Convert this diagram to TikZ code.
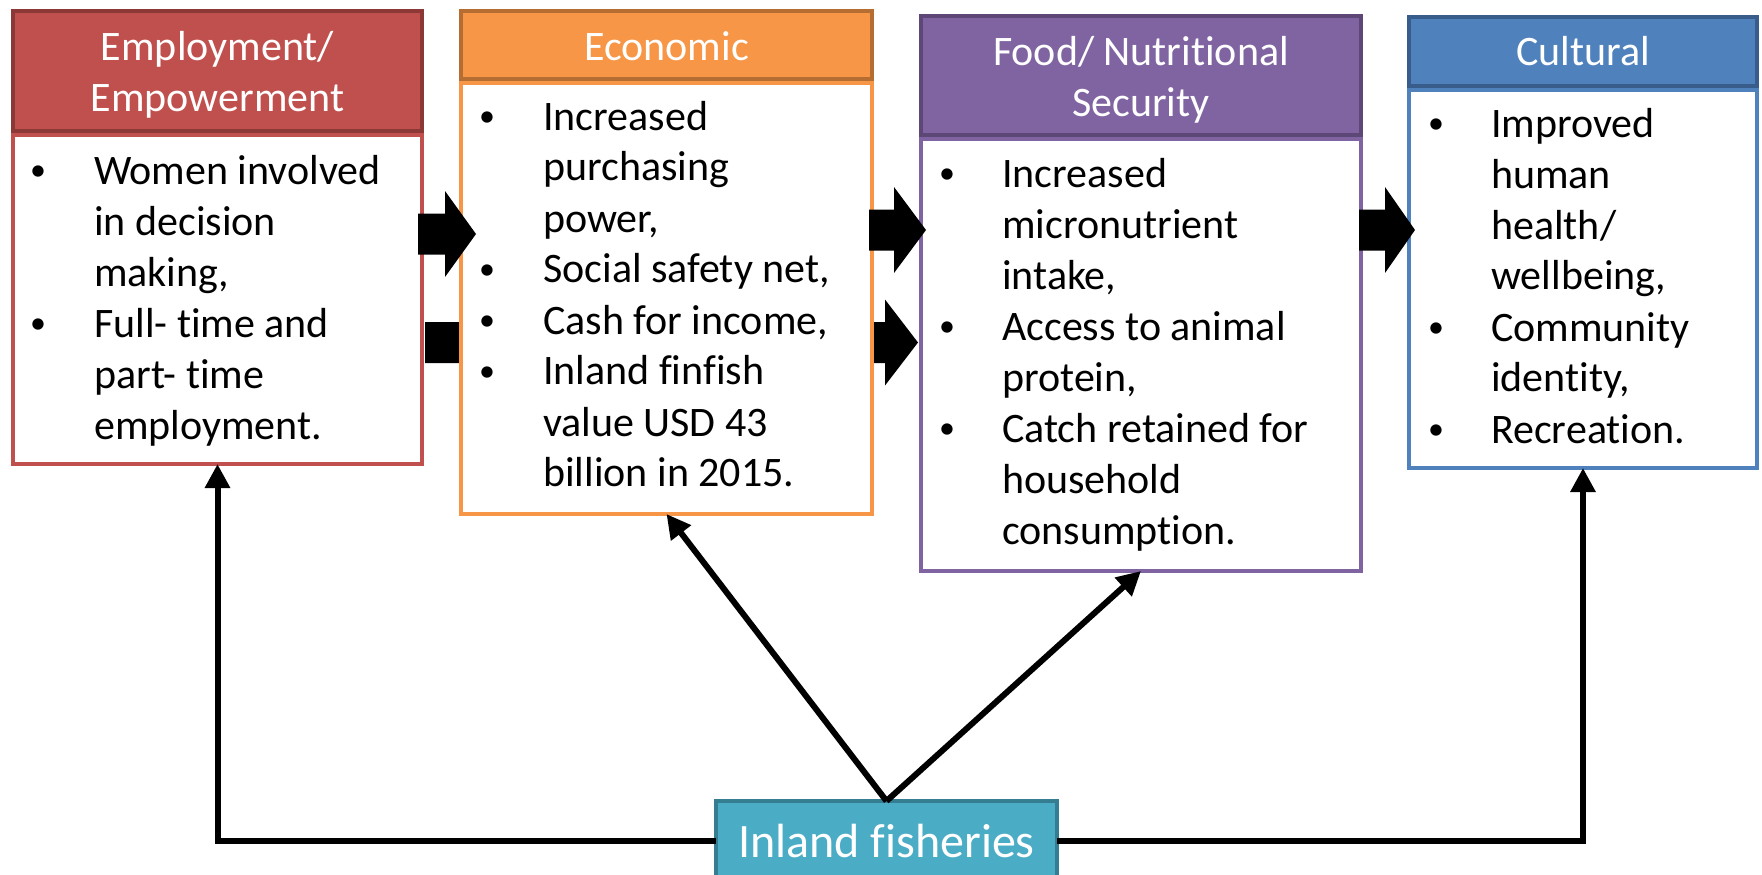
\documentclass[tikz,border=0pt]{standalone}
\usepackage{fontspec}
\setmainfont{Carlito}[Ligatures={NoCommon,NoContextual},Contextuals=NoAlternate]
\usetikzlibrary{arrows.meta}
\definecolor{cRed}{HTML}{C0504D}
\definecolor{cRedD}{HTML}{8C3836}
\definecolor{cOra}{HTML}{F79646}
\definecolor{cOraD}{HTML}{B66D31}
\definecolor{cPur}{HTML}{8064A2}
\definecolor{cPurD}{HTML}{5C4776}
\definecolor{cBlu}{HTML}{4F81BD}
\definecolor{cBluD}{HTML}{385D8A}
\definecolor{cTea}{HTML}{4BACC6}
\definecolor{cTeaD}{HTML}{357D91}
\newcommand\bulletmark{\makebox[0pt]{\raisebox{3.5pt}{\fontsize{32}{51}\selectfont\textbullet}}}
\newcommand\blockarr[4]{\fill[black] (#1,#4-20.5) -- (#2,#4-20.5) -- (#2,#4-43) -- (#3,#4) -- (#2,#4+43) -- (#2,#4+20.5) -- (#1,#4+20.5) -- cycle;}
\begin{document}
\begin{tikzpicture}[x=1pt,y=-1pt,
  hdr/.style={draw=#1, line width=4pt, inner sep=0pt, outer sep=0pt, anchor=north west},
  bodybox/.style={draw=#1, fill=white, line width=4pt, inner sep=0pt, outer sep=0pt, anchor=north west},
  bodytext/.style={inner sep=0pt, anchor=base west, font=\fontsize{42}{51}\selectfont},
  hdrtext/.style={inner sep=0pt, anchor=base, text=white, font=\fontsize{42}{51}\selectfont},
  fishbox/.style={draw=cTeaD, fill=cTea, line width=4pt, inner sep=0pt, outer sep=0pt, text=white, font=\fontsize{48}{58}\selectfont},
  conn/.style={line width=6pt, -{Triangle[length=24pt,width=24pt]}}]
\useasboundingbox (0,0) rectangle (1762,875);
% long block arrow passing behind the Economic box
\blockarr{425}{885}{918}{342.5}
% boxes
\node[bodybox=cRed, minimum width=409pt, minimum height=329pt] (redbody) at (13,135) {};
\node[hdr=cRedD, fill=cRed, minimum width=409pt, minimum height=120pt] (redhead) at (13,11) {};
\node[bodybox=cOra, minimum width=411pt, minimum height=431pt] (orangebody) at (461,83) {};
\node[hdr=cOraD, fill=cOra, minimum width=411pt, minimum height=68pt] (orangehead) at (461,11) {};
\node[bodybox=cPur, minimum width=440pt, minimum height=432pt] (purplebody) at (921,139) {};
\node[hdr=cPurD, fill=cPur, minimum width=440pt, minimum height=119pt] (purplehead) at (921,16) {};
\node[bodybox=cBlu, minimum width=348pt, minimum height=378pt] (bluebody) at (1409,90) {};
\node[hdr=cBluD, fill=cBlu, minimum width=348pt, minimum height=69pt] (bluehead) at (1409,17) {};
% header texts
\node[hdrtext] (redtitle) at (217.5,61) {\begin{tabular}[t]{@{}c@{}}Employment/\\Empowerment\end{tabular}};
\node[hdrtext] (orangetitle) at (666.5,60) {Economic};
\node[hdrtext] (purpletitle) at (1141,66) {\begin{tabular}[t]{@{}c@{}}Food/ Nutritional\\Security\end{tabular}};
\node[hdrtext] (bluetitle) at (1583,66) {Cultural};
% body texts
\node[bodytext] (redtext) at (38,184) {\begin{tabular}[t]{@{}l@{\hspace{56pt}}l@{}}
\bulletmark & Women involved\\
 & in decision\\
 & making,\\
\bulletmark & Full- time and\\
 & part- time\\
 & employment.
\end{tabular}};
\node[bodytext] (orangetext) at (487,130) {\begin{tabular}[t]{@{}l@{\hspace{56pt}}l@{}}
\bulletmark & Increased\\
 & purchasing\\
 & power,\\
\bulletmark & Social safety net,\\
\bulletmark & Cash for income,\\
\bulletmark & Inland finfish\\
 & value USD 43\\
 & billion in 2015.
\end{tabular}};
\node[bodytext] (purpletext) at (947,187) {\begin{tabular}[t]{@{}l@{\hspace{55pt}}l@{}}
\bulletmark & Increased\\
 & micronutrient\\
 & intake,\\
\bulletmark & Access to animal\\
 & protein,\\
\bulletmark & Catch retained for\\
 & household\\
 & consumption.
\end{tabular}};
\node[bodytext] (bluetext) at (1436,137) {\begin{tabular}[t]{@{}l@{\hspace{55pt}}l@{}}
\bulletmark & Improved\\
 & human\\
 & health/\\
 & wellbeing,\\
\bulletmark & Community\\
 & identity,\\
\bulletmark & Recreation.
\end{tabular}};
% block arrows between boxes
\blockarr{418}{445}{476}{234}
\blockarr{869}{894}{926}{230}
\blockarr{1359}{1385}{1415}{230}
% source node
\node[fishbox, minimum width=341pt, minimum height=80pt] (fish) at (886.5,841) {Inland fisheries};
% connectors
\draw[conn] (fish.west) -| (redbody.south);
\draw[conn] (fish.east) -| (bluebody.south);
\draw[conn] (fish.north) -- (orangebody.south);
\draw[conn] (fish.north) -- (purplebody.south);
\end{tikzpicture}
\end{document}
